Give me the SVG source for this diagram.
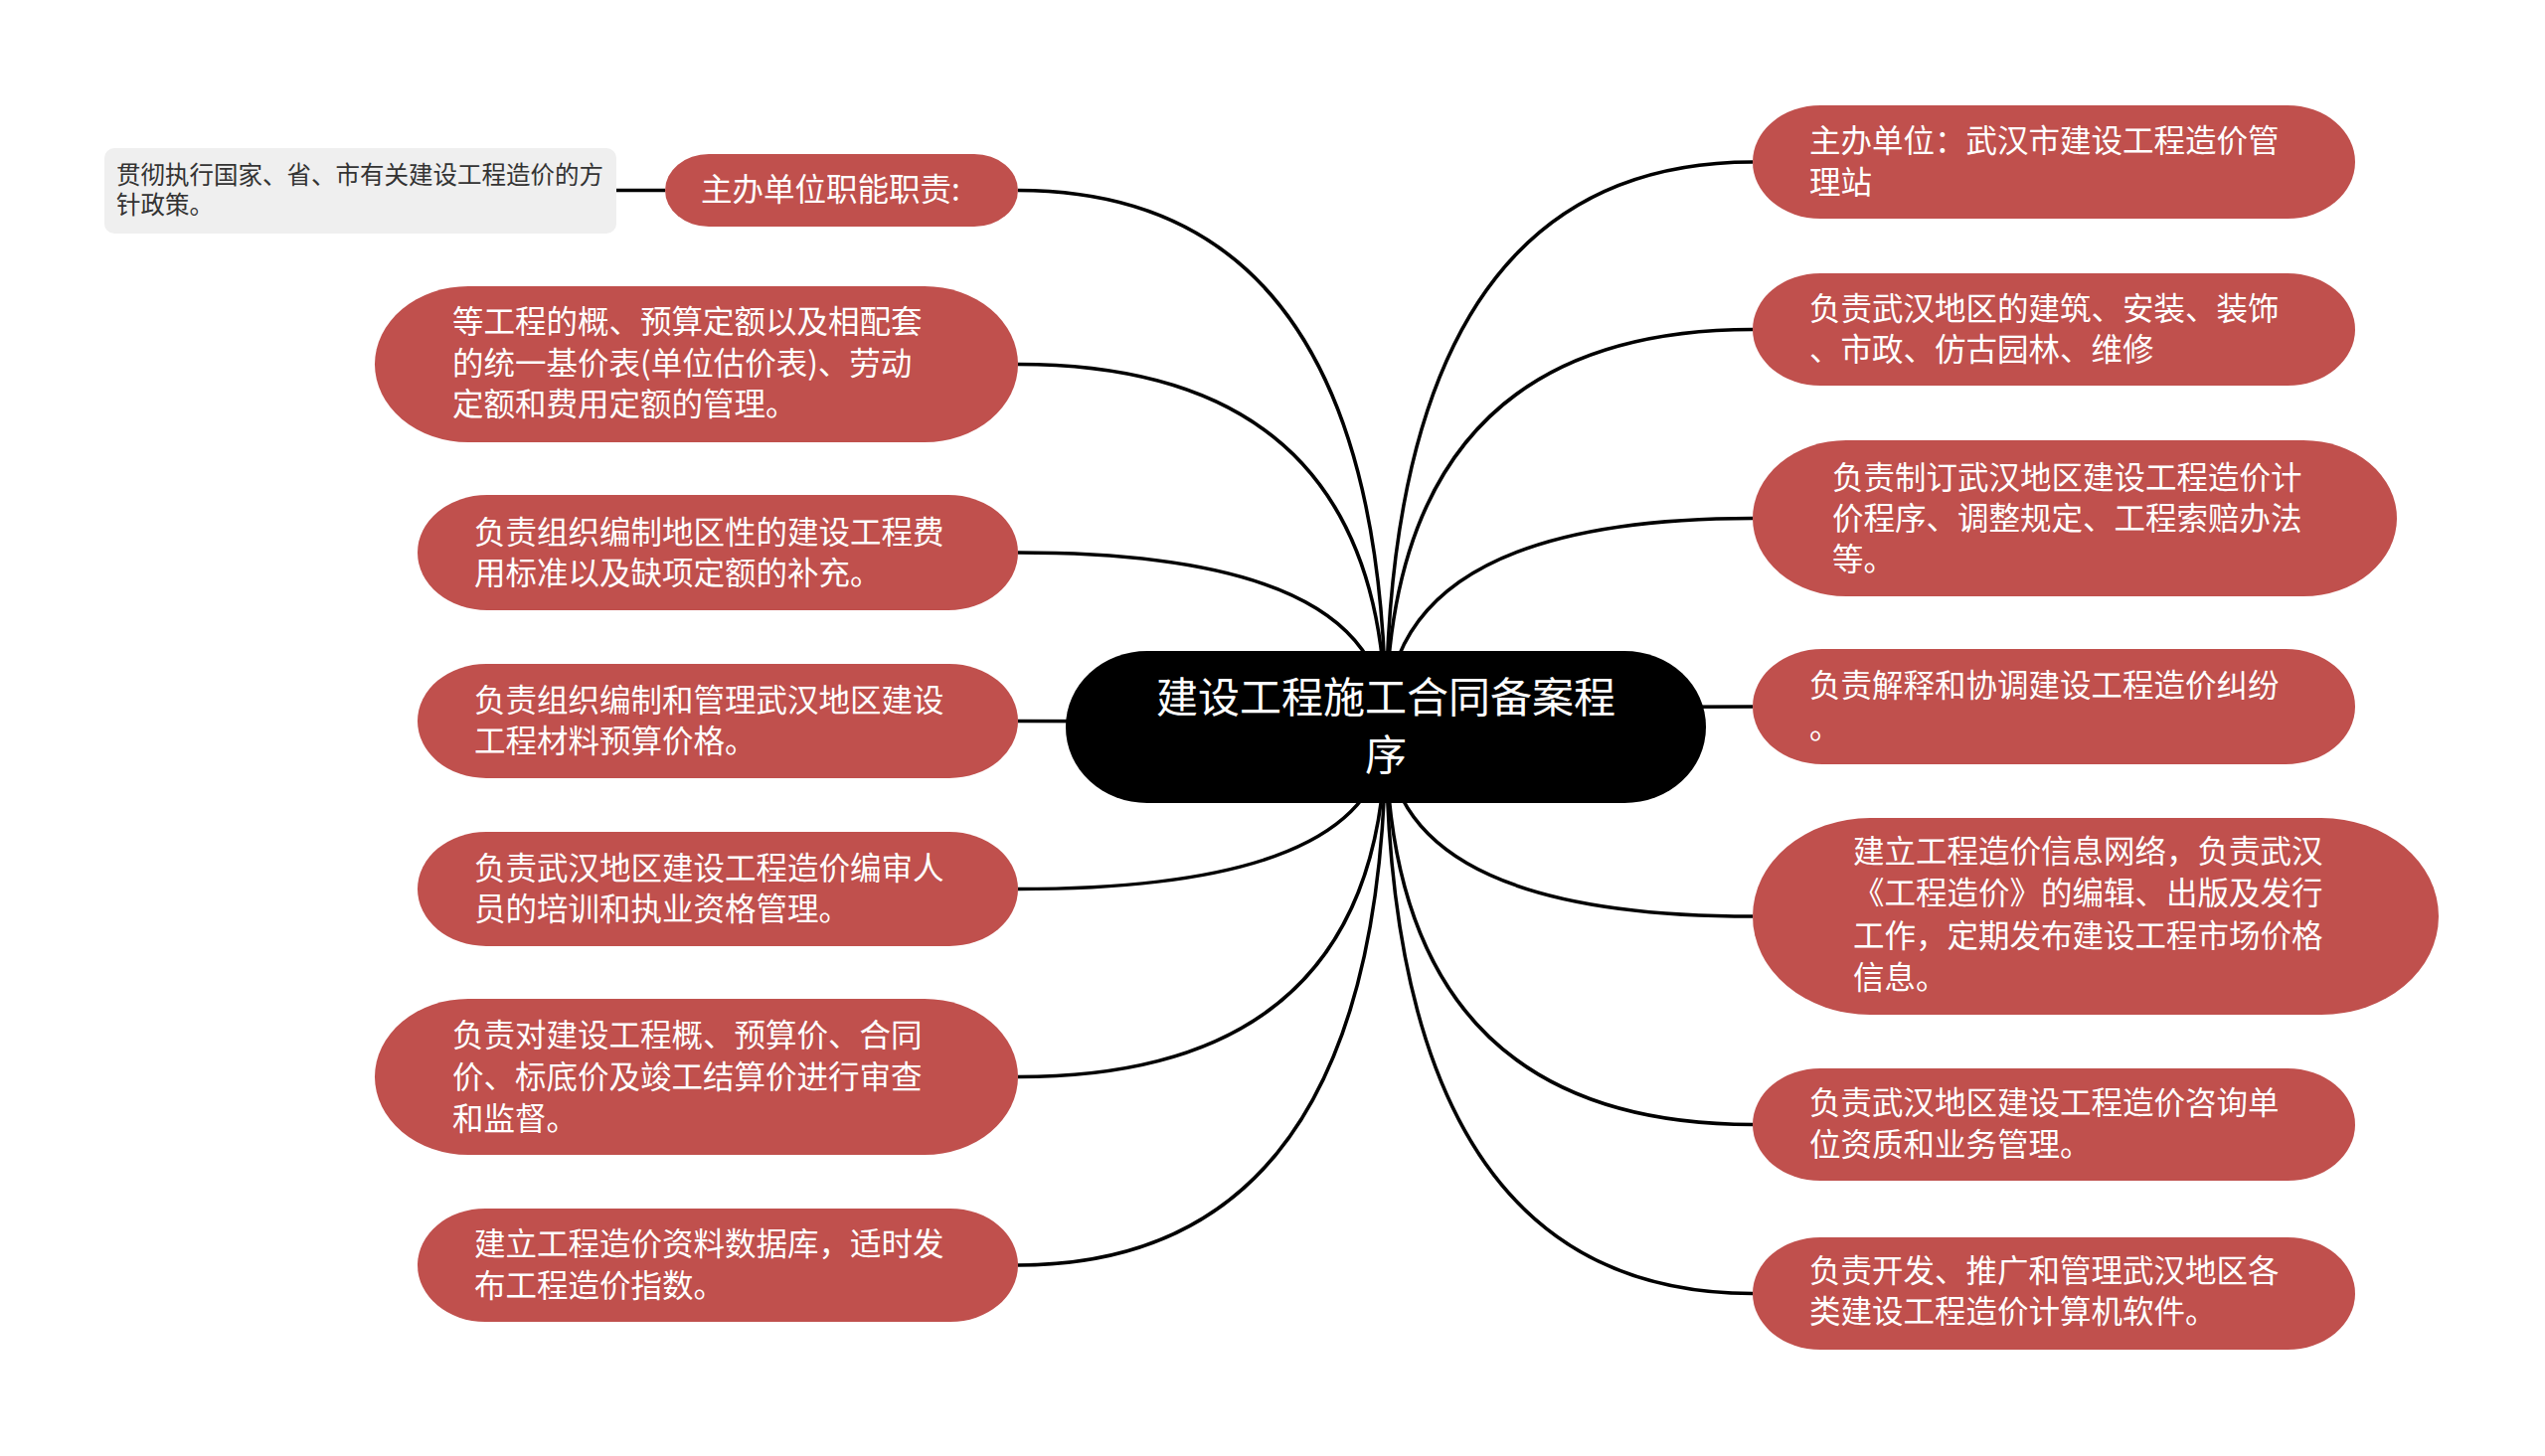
<svg xmlns="http://www.w3.org/2000/svg" width="2560" height="1465" viewBox="0 0 2560 1465">
<style>
.node rect{fill:#c0504d}
.t{font-family:"Noto Sans CJK SC","Noto Sans",sans-serif;font-size:31.5px;fill:#ffffff}
.c{font-family:"Noto Sans CJK SC","Noto Sans",sans-serif;font-size:42px;fill:#ffffff;text-anchor:middle}
.g{font-family:"Noto Sans CJK SC","Noto Sans",sans-serif;font-size:24.5px;fill:#333333}
</style>
<rect width="2560" height="1465" fill="#ffffff"/>
<g id="connectors" fill="none" stroke="#000" stroke-width="3.5">
<path d="M620 191.5 H669"/>
<path d="M1024 191.5 Q1394 191.5 1394 731.5"/>
<path d="M1024 366.5 Q1394 366.5 1394 731.5"/>
<path d="M1024 556 Q1394 556 1394 731.5"/>
<path d="M1024 725.5 Q1394 725.5 1394 731.5"/>
<path d="M1024 894.5 Q1394 894.5 1394 731.5"/>
<path d="M1024 1083.5 Q1394 1083.5 1394 731.5"/>
<path d="M1024 1273 Q1394 1273 1394 731.5"/>
<path d="M1763 163 Q1394 163 1394 731.5"/>
<path d="M1763 331.5 Q1394 331.5 1394 731.5"/>
<path d="M1763 521.5 Q1394 521.5 1394 731.5"/>
<path d="M1763 711 Q1394 711 1394 731.5"/>
<path d="M1763 922 Q1394 922 1394 731.5"/>
<path d="M1763 1131.5 Q1394 1131.5 1394 731.5"/>
<path d="M1763 1301.5 Q1394 1301.5 1394 731.5"/>
</g>
<g id="center">
<rect x="1072" y="655" width="644" height="153" rx="82" ry="76" fill="#000"/>
<text class="c" x="1394" y="717">建设工程施工合同备案程</text>
<text class="c" x="1394" y="775">序</text>
</g>
<g id="leaf-gray">
<rect x="105" y="149" width="515" height="86" rx="10" fill="#efefef"/>
<text class="g" x="117" y="185">贯彻执行国家、省、市有关建设工程造价的方</text>
<text class="g" x="117" y="215">针政策。</text>
</g>
<g id="L1" class="node">
<rect x="669" y="155" width="355" height="73" rx="44" ry="36.5"/>
<text class="t" x="705" y="202">主办单位职能职责:</text>
</g>
<g id="L2" class="node">
<rect x="377" y="288" width="647" height="157" rx="94" ry="78.5"/>
<text class="t" x="455" y="335">等工程的概、预算定额以及相配套</text>
<text class="t" x="455" y="377">的统一基价表(单位估价表)、劳动</text>
<text class="t" x="455" y="418">定额和费用定额的管理。</text>
</g>
<g id="L3" class="node">
<rect x="420" y="498" width="604" height="116" rx="70" ry="58"/>
<text class="t" x="477" y="547">负责组织编制地区性的建设工程费</text>
<text class="t" x="477" y="588">用标准以及缺项定额的补充。</text>
</g>
<g id="L4" class="node">
<rect x="420" y="668" width="604" height="115" rx="69" ry="57.5"/>
<text class="t" x="477" y="716">负责组织编制和管理武汉地区建设</text>
<text class="t" x="477" y="757">工程材料预算价格。</text>
</g>
<g id="L5" class="node">
<rect x="420" y="837" width="604" height="115" rx="69" ry="57.5"/>
<text class="t" x="477" y="885">负责武汉地区建设工程造价编审人</text>
<text class="t" x="477" y="926">员的培训和执业资格管理。</text>
</g>
<g id="L6" class="node">
<rect x="377" y="1005" width="647" height="157" rx="94" ry="78.5"/>
<text class="t" x="455" y="1053">负责对建设工程概、预算价、合同</text>
<text class="t" x="455" y="1095">价、标底价及竣工结算价进行审查</text>
<text class="t" x="455" y="1137">和监督。</text>
</g>
<g id="L7" class="node">
<rect x="420" y="1216" width="604" height="114" rx="68" ry="57"/>
<text class="t" x="477" y="1263">建立工程造价资料数据库，适时发</text>
<text class="t" x="477" y="1305">布工程造价指数。</text>
</g>
<g id="R1" class="node">
<rect x="1763" y="106" width="606" height="114" rx="68" ry="57"/>
<text class="t" x="1820" y="153">主办单位：武汉市建设工程造价管</text>
<text class="t" x="1820" y="195">理站</text>
</g>
<g id="R2" class="node">
<rect x="1763" y="275" width="606" height="113" rx="68" ry="56.5"/>
<text class="t" x="1820" y="322">负责武汉地区的建筑、安装、装饰</text>
<text class="t" x="1820" y="363">、市政、仿古园林、维修</text>
</g>
<g id="R3" class="node">
<rect x="1763" y="443" width="648" height="157" rx="94" ry="78.5"/>
<text class="t" x="1843" y="492">负责制订武汉地区建设工程造价计</text>
<text class="t" x="1843" y="533">价程序、调整规定、工程索赔办法</text>
<text class="t" x="1843" y="574">等。</text>
</g>
<g id="R4" class="node">
<rect x="1763" y="653" width="606" height="116" rx="70" ry="58"/>
<text class="t" x="1820" y="701">负责解释和协调建设工程造价纠纷</text>
<text class="t" x="1820" y="743">。</text>
</g>
<g id="R5" class="node">
<rect x="1763" y="823" width="690" height="198" rx="118" ry="99"/>
<text class="t" x="1864" y="868">建立工程造价信息网络，负责武汉</text>
<text class="t" x="1864" y="910">《工程造价》的编辑、出版及发行</text>
<text class="t" x="1864" y="953">工作，定期发布建设工程市场价格</text>
<text class="t" x="1864" y="995">信息。</text>
</g>
<g id="R6" class="node">
<rect x="1763" y="1075" width="606" height="113" rx="68" ry="56.5"/>
<text class="t" x="1820" y="1121">负责武汉地区建设工程造价咨询单</text>
<text class="t" x="1820" y="1163">位资质和业务管理。</text>
</g>
<g id="R7" class="node">
<rect x="1763" y="1245" width="606" height="113" rx="68" ry="56.5"/>
<text class="t" x="1820" y="1290">负责开发、推广和管理武汉地区各</text>
<text class="t" x="1820" y="1331">类建设工程造价计算机软件。</text>
</g>
</svg>
